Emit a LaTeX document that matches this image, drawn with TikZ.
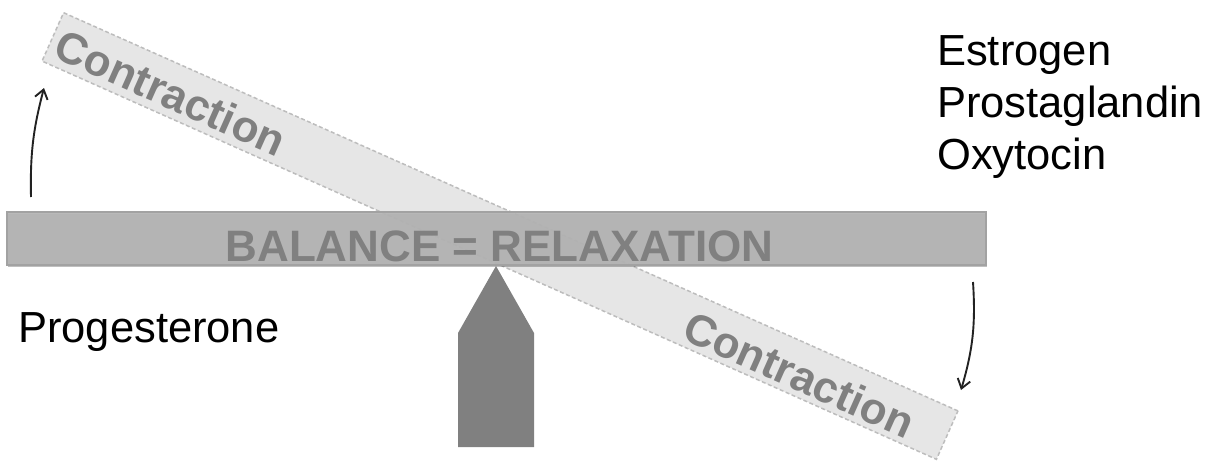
\documentclass[tikz,border=0pt]{standalone}
\usepackage{fontspec}
\setmainfont{Liberation Sans}
\usetikzlibrary{arrows.meta,shadows}
\definecolor{barfill}{HTML}{B4B4B4}
\definecolor{barline}{HTML}{A2A2A2}
\definecolor{tiltfill}{HTML}{E6E6E6}
\definecolor{tiltline}{HTML}{BDBDBD}
\definecolor{txtgray}{HTML}{808080}
\definecolor{fulc}{HTML}{808080}
\definecolor{arrowc}{HTML}{222222}
\begin{document}
\begin{tikzpicture}[x=1pt,y=1pt,
  lbl/.style={font=\fontsize{43.5}{52}\selectfont, inner sep=0pt, anchor=base west, text=black},
  graytxt/.style={font=\fontsize{44}{52}\selectfont\bfseries, text=txtgray, inner sep=0pt},
  beam/.style={rectangle, minimum width=979pt, minimum height=53pt, inner sep=0pt},
  hbeam/.style={beam, fill=barfill, draw=barline, line width=1.5pt,
    drop shadow={shadow xshift=1pt, shadow yshift=-2pt, opacity=0.25, fill=black}},
  tbeam/.style={beam, fill=tiltfill, draw=tiltline, line width=1.5pt, dash pattern=on 4pt off 2.5pt},
  pusharrow/.style={draw=arrowc, line width=1.9pt, -{Straight Barb[length=9pt,width=13pt]}}
]
\useasboundingbox (0,0) rectangle (1215,-463);

% tilted beam (behind)
\node[tbeam, rotate=-24] (tilt) at (500,-236) {};
\begin{scope}[shift={(500,-236)}, rotate=-24, transform shape]
  \node[graytxt] (c1) at (-359,-3) {Contraction};
  \node[graytxt] (c2) at (330,-5) {Contraction};
\end{scope}

% horizontal beam
\node[hbeam, fill opacity=0.93] (bar) at (496.5,-238.5) {};
\node[graytxt, anchor=base] (bal) at (499.5,-261) {BALANCE = RELAXATION};

% fulcrum
\path[fill=fulc] (496,-266) -- (534,-333) -- (534,-447) -- (458,-447) -- (458,-333) -- cycle;

% labels
\node[lbl] (estr) at (937,-65) {Estrogen};
\node[lbl] (pros) at (937,-117) {Prostaglandin};
\node[lbl] (oxy) at (937,-169) {Oxytocin};
\node[lbl] (prog) at (18,-342) {Progesterone};

% arrows
\coordinate (a1s) at (31,-197);
\coordinate (a1e) at (44,-88);
\coordinate (a2s) at (973,-282);
\coordinate (a2e) at (961,-390);
\draw[pusharrow] (a1s) to[bend left=8] (a1e);
\draw[pusharrow] (a2s) to[bend left=10] (a2e);
\end{tikzpicture}
\end{document}
